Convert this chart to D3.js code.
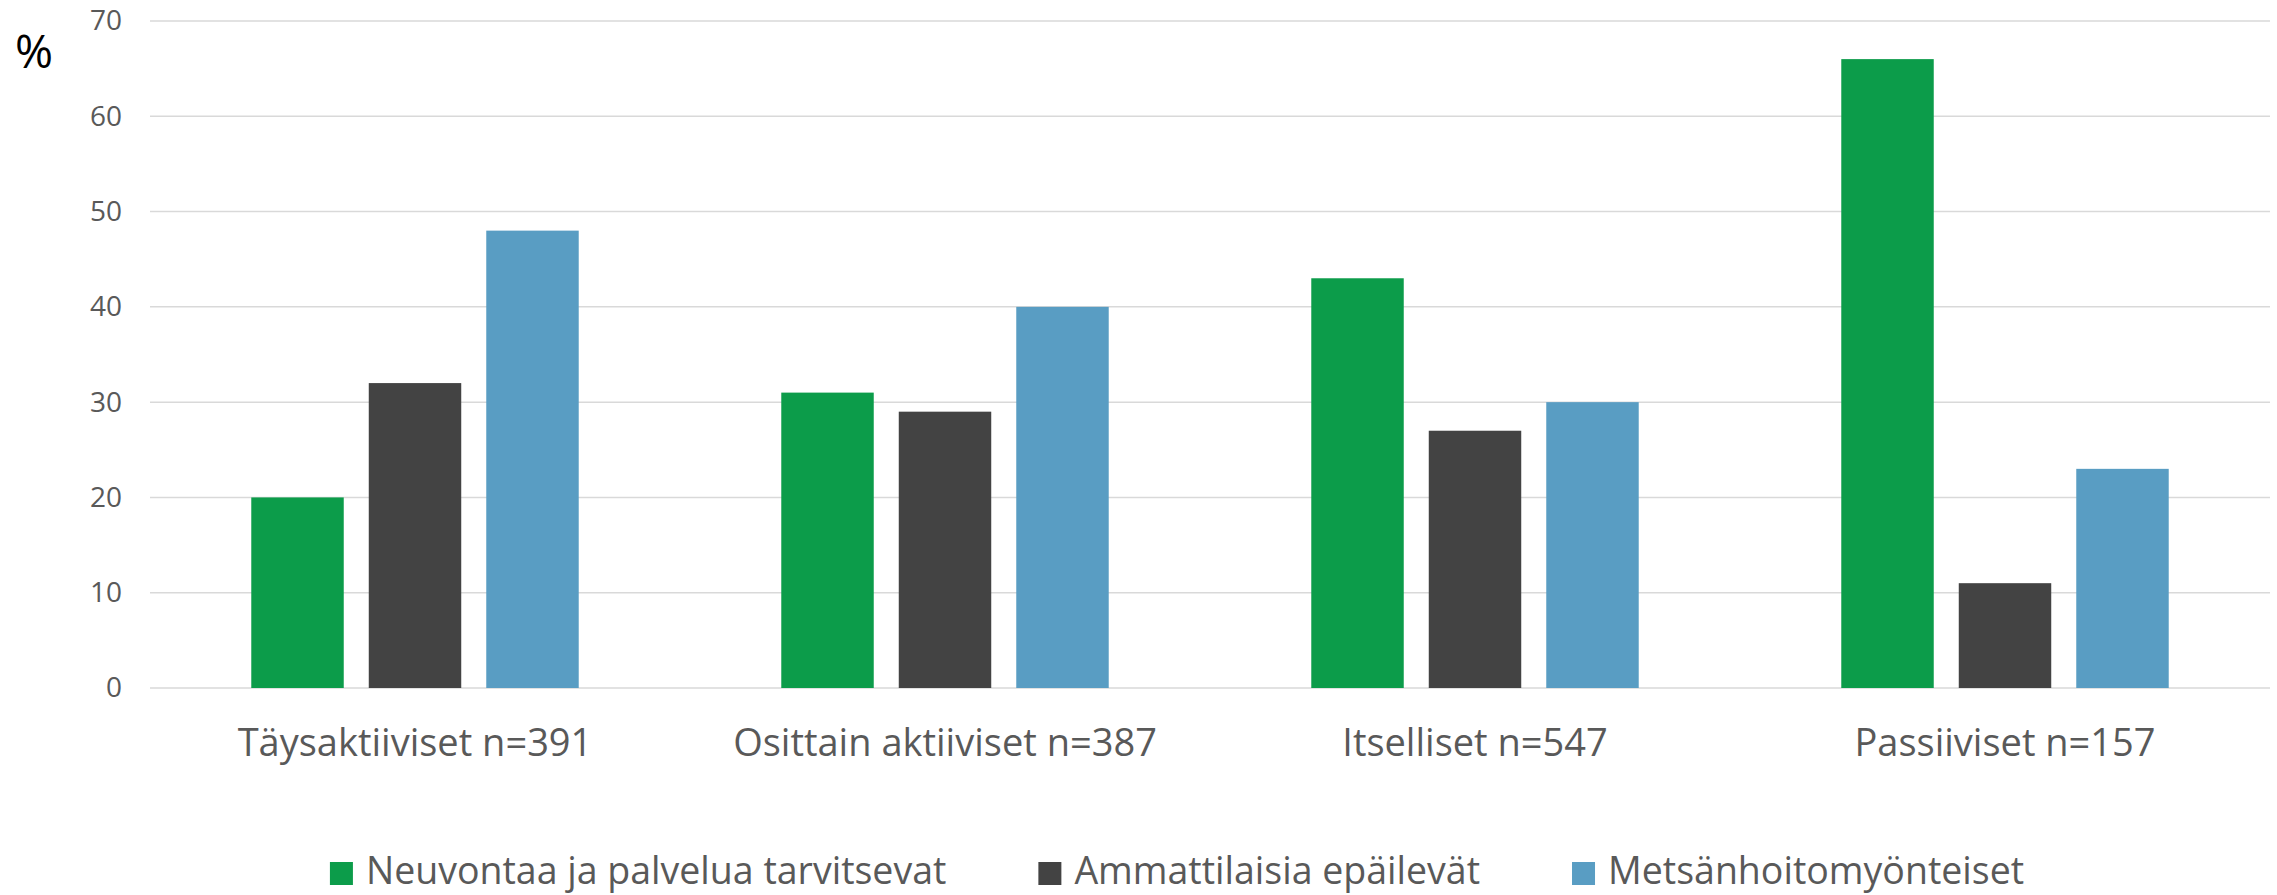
<!DOCTYPE html>
<html>
<head>
<meta charset="utf-8">
<script src="https://cdn.jsdelivr.net/npm/d3@7"></script>
<style>
  html, body { margin: 0; padding: 0; background: #fff; }
  svg { display: block; font-family: "Open Sans", sans-serif; }
</style>
</head>
<body>
<svg id="chart" width="2277" height="895"></svg>
<script>
// Categories and series
const categories = ['Täysaktiiviset n=391', 'Osittain aktiiviset n=387', 'Itselliset n=547', 'Passiiviset n=157'];
const seriesNames = ['Neuvontaa ja palvelua tarvitsevat', 'Ammattilaisia epäilevät', 'Metsänhoitomyönteiset'];
const seriesColors = ['#0c9c4a', '#434343', '#599dc3'];

// Values per series (in category order)
const neuvontaa = [20, 31, 43, 66];
const ammattilaisia = [32, 29, 27, 11];
const metsanhoito = [48, 40, 30, 23];
const seriesValues = [neuvontaa, ammattilaisia, metsanhoito];

const yTicks = [0, 10, 20, 30, 40, 50, 60, 70];

// Layout
const margin = { left: 150, right: 7, top: 21, bottom: 207 };
const width = 2277, height = 895;
const svg = d3.select('#chart');

const x0 = d3.scaleBand()
  .domain(categories)
  .range([margin.left, width - margin.right])
  .padding(0);

const x1 = d3.scaleBand()
  .domain(d3.range(seriesNames.length))
  .range([0, x0.bandwidth()])
  .paddingInner(0.213)
  .paddingOuter(0.862);

const y = d3.scaleLinear()
  .domain([0, 70])
  .range([height - margin.bottom, margin.top]);

// Gridlines
svg.append('g')
  .selectAll('line')
  .data(yTicks)
  .join('line')
  .attr('x1', margin.left)
  .attr('x2', width - margin.right)
  .attr('y1', d => y(d))
  .attr('y2', d => y(d))
  .attr('stroke', '#d9d9d9')
  .attr('stroke-width', 1.5);

// Y axis labels
const yAxis = d3.axisLeft(y).tickValues(yTicks).tickSize(0).tickPadding(28);
svg.append('g')
  .attr('transform', `translate(${margin.left},0)`)
  .call(yAxis)
  .call(g => g.select('.domain').remove())
  .call(g => g.selectAll('text')
    .attr('fill', '#595959')
    .style('font-size', '28px')
    .style('font-family', '"Open Sans", sans-serif'));

// "%" label
svg.append('text')
  .attr('x', 15)
  .attr('y', 68)
  .attr('fill', '#000')
  .style('font-size', '46px')
  .text('%');

// Bars
const groups = svg.append('g')
  .selectAll('g')
  .data(categories)
  .join('g')
  .attr('transform', d => `translate(${x0(d)},0)`);

groups.selectAll('rect')
  .data((d, ci) => seriesValues.map((vals, si) => ({ si, v: vals[ci] })))
  .join('rect')
  .attr('x', d => x1(d.si))
  .attr('width', x1.bandwidth())
  .attr('y', d => y(d.v))
  .attr('height', d => y(0) - y(d.v))
  .attr('fill', d => seriesColors[d.si]);

// X axis labels
const xAxis = d3.axisBottom(x0).tickSize(0).tickPadding(41);
svg.append('g')
  .attr('transform', `translate(0,${y(0)})`)
  .call(xAxis)
  .call(g => g.select('.domain').remove())
  .call(g => g.selectAll('text')
    .attr('fill', '#595959')
    .style('font-size', '38px')
    .style('font-family', '"Open Sans", sans-serif'));

// Legend
const legend = svg.append('g');
const items = legend.selectAll('g')
  .data(seriesNames)
  .join('g');

items.append('rect')
  .attr('width', 23)
  .attr('height', 23)
  .attr('y', -22)
  .attr('fill', (d, i) => seriesColors[i]);

items.append('text')
  .attr('x', 36)
  .attr('y', 0)
  .attr('fill', '#595959')
  .style('font-size', '37.5px')
  .text(d => d);

// Position legend items side by side, centred
let offset = 0;
const gap = 92;
items.each(function () {
  const w = 36 + this.querySelector('text').getComputedTextLength();
  d3.select(this).attr('transform', `translate(${offset},0)`);
  offset += w + gap;
});
const totalW = offset - gap;
legend.attr('transform', `translate(${1177 - totalW / 2},884)`);
</script>
</body>
</html>
